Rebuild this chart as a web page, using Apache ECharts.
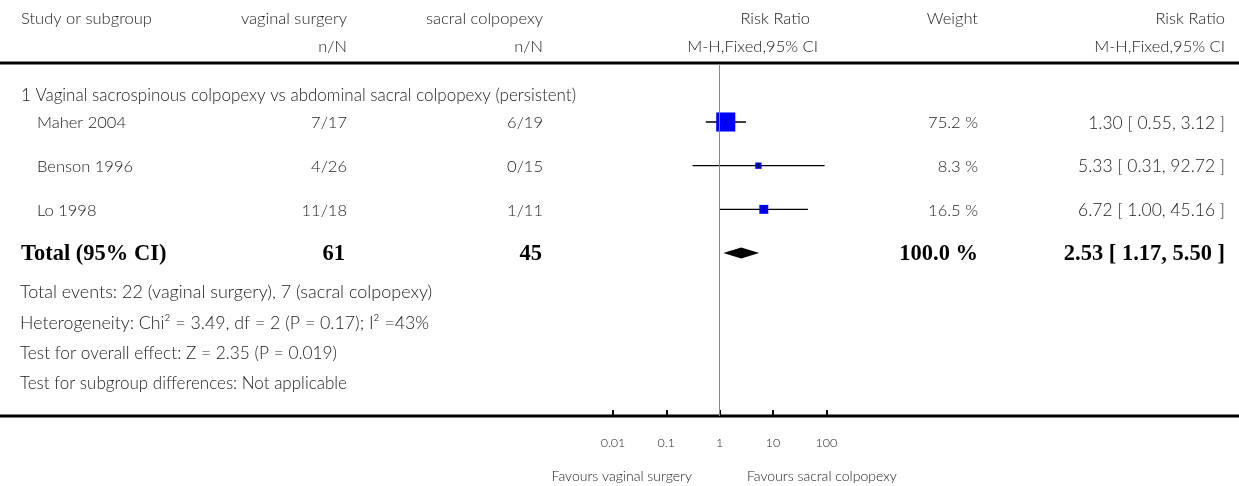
<!DOCTYPE html>
<html><head><meta charset="utf-8">
<script src="https://cdn.jsdelivr.net/npm/echarts/dist/echarts.min.js"></script>
<style>html,body{margin:0;padding:0;background:#fff}#c{width:1239px;height:486px}</style>
</head><body><div id="c"></div>
<script>
// ---------------- data ----------------
const headerRow1 = ['Study or subgroup', 'vaginal surgery', 'sacral colpopexy', 'Risk Ratio', 'Weight', 'Risk Ratio'];
const headerRow2 = ['', 'n/N', 'n/N', 'M-H,Fixed,95% CI', '', 'M-H,Fixed,95% CI'];
const subgroupTitle = '1 Vaginal sacrospinous colpopexy vs abdominal sacral colpopexy (persistent)';
const studies = ['Maher 2004', 'Benson 1996', 'Lo 1998'];
const vaginalNN = ['7/17', '4/26', '11/18'];
const sacralNN = ['6/19', '0/15', '1/11'];
const rrEst = [1.30, 5.33, 6.72];
const rrLow = [0.55, 0.31, 1.00];
const rrHigh = [3.12, 92.72, 45.16];
const weights = [75.2, 8.3, 16.5];
const weightLabels = ['75.2 %', '8.3 %', '16.5 %'];
const rrLabels = ['1.30 [ 0.55, 3.12 ]', '5.33 [ 0.31, 92.72 ]', '6.72 [ 1.00, 45.16 ]'];
const totalLabel = 'Total (95% CI)';
const totalVaginal = '61';
const totalSacral = '45';
const totalEst = 2.53, totalLow = 1.17, totalHigh = 5.50;
const totalWeightLabel = '100.0 %';
const totalRRLabel = '2.53 [ 1.17, 5.50 ]';
const footnotes = [
  'Total events: 22 (vaginal surgery), 7 (sacral colpopexy)',
  'Heterogeneity: Chi² = 3.49, df = 2 (P = 0.17); I² =43%',
  'Test for overall effect: Z = 2.35 (P = 0.019)',
  'Test for subgroup differences: Not applicable'
];
const tickValues = [0.01, 0.1, 1, 10, 100];
const tickLabels = ['0.01', '0.1', '1', '10', '100'];
const favoursLeft = 'Favours vaginal surgery';
const favoursRight = 'Favours sacral colpopexy';

// ---------------- layout ----------------
const FONT = '"Lato", "Open Sans", sans-serif';
const TXT = '#222';
const W = 1239;
const gridTop = 64, gridBottomY = 416;
const rowUnit = 43.67;          // px per study row
const firstRowY = 122;          // pixel of row 1
const yMin = 1 - (firstRowY - gridTop) / rowUnit;
const yMax = yMin + (gridBottomY - gridTop) / rowUnit;

const studyData = studies.map((s, i) => [i + 1, rrEst[i], rrLow[i], rrHigh[i], weights[i]]);
const totalRow = studies.length + 1;

const chart = echarts.init(document.getElementById('c'), null, {renderer: 'canvas'});

const option = {
  animation: false,
  backgroundColor: '#fff',
  grid: {left: 613, width: 213.33, top: gridTop, height: gridBottomY - gridTop, containLabel: false},
  xAxis: {
    type: 'log', logBase: 10, min: 0.01, max: 100,
    axisLine: {show: false, onZero: false},
    axisTick: {show: true, inside: true, length: 6, lineStyle: {color: '#000', width: 2}},
    splitLine: {show: false},
    axisLabel: {
      margin: 20, color: TXT, fontFamily: 'Lato', fontWeight: 300, fontSize: 12.5,
      formatter: v => {
        const i = tickValues.findIndex(t => Math.abs(Math.log10(t) - Math.log10(v)) < 1e-6);
        return i >= 0 ? tickLabels[i] : '';
      }
    }
  },
  yAxis: {type: 'value', min: yMin, max: yMax, inverse: true, show: false},
  series: [
    {
      type: 'custom',
      data: studyData,
      encode: {x: [1, 2, 3], y: 0},
      renderItem: (params, api) => {
        const row = api.value(0);
        const pEst = api.coord([api.value(1), row]);
        const pLo = api.coord([api.value(2), row]);
        const pHi = api.coord([api.value(3), row]);
        const size = 2.2 * Math.sqrt(api.value(4));
        return {
          type: 'group',
          children: [
            {type: 'line', shape: {x1: pLo[0], y1: pLo[1], x2: pHi[0], y2: pHi[1]},
             style: {stroke: '#000', lineWidth: 1.3}},
            {type: 'rect', shape: {x: pEst[0] - size / 2, y: pEst[1] - size / 2, width: size, height: size},
             style: {fill: '#0000ff'}},
            {type: 'line', shape: {x1: pEst[0], y1: pEst[1] - 2.5, x2: pEst[0], y2: pEst[1] + 2.5},
             style: {stroke: '#000', lineWidth: 1}}
          ]
        };
      },
      markLine: {
        silent: true, symbol: 'none', label: {show: false},
        lineStyle: {color: '#888', width: 1, type: 'solid'},
        data: [{xAxis: 1}]
      }
    },
    {
      type: 'custom',
      data: [[totalRow, totalEst, totalLow, totalHigh]],
      encode: {x: [1, 2, 3], y: 0},
      renderItem: (params, api) => {
        const row = api.value(0);
        const pEst = api.coord([api.value(1), row]);
        const pLo = api.coord([api.value(2), row]);
        const pHi = api.coord([api.value(3), row]);
        const h = 5.5;
        return {
          type: 'polygon',
          shape: {points: [[pLo[0], pLo[1]], [pEst[0], pEst[1] - h], [pHi[0], pHi[1]], [pEst[0], pEst[1] + h]]},
          style: {fill: '#000'}
        };
      }
    }
  ]
};
chart.setOption(option);

// ---------------- text table ----------------
const F = (s) => '300 ' + s + 'px ' + FONT;
function txt(text, x, y, align, font, fill) {
  return {type: 'text', silent: true, x: 0, y: 0,
    style: {text: text, x: x, y: y, textAlign: align, align: align,
            textVerticalAlign: 'middle', verticalAlign: 'middle',
            font: font || F(16.5), fill: fill || TXT}};
}
const rowY = r => chart.convertToPixel({gridIndex: 0}, [1, r])[1] + 1;
const colX = {study: 21, studyIndent: 37, vag: 347, sac: 543, weight: 978, rrTxt: 1225};
const HFONT = F(16.5);
const els = [];
// header
const hAlign = ['left', 'right', 'right', 'right', 'right', 'right'];
const hX1 = [colX.study, colX.vag, colX.sac, 810, 978, colX.rrTxt];
const hX2 = [colX.study, colX.vag, colX.sac, 818, 978, colX.rrTxt];
headerRow1.forEach((t, i) => { if (t) els.push(txt(t, hX1[i], 19, hAlign[i], HFONT)); });
headerRow2.forEach((t, i) => { if (t) els.push(txt(t, hX2[i], 47, hAlign[i], HFONT)); });
// rules
els.push({type: 'line', silent: true, shape: {x1: 0, y1: 63, x2: W, y2: 63}, style: {stroke: '#000', lineWidth: 3}});
els.push({type: 'line', silent: true, shape: {x1: 0, y1: gridBottomY, x2: W, y2: gridBottomY}, style: {stroke: '#000', lineWidth: 3}});
// subgroup
els.push(txt(subgroupTitle, colX.study, 96, 'left', F(17)));
studies.forEach((s, i) => {
  const y = rowY(i + 1);
  els.push(txt(s, colX.studyIndent, y, 'left'));
  els.push(txt(vaginalNN[i], colX.vag, y, 'right'));
  els.push(txt(sacralNN[i], colX.sac, y, 'right'));
  els.push(txt(weightLabels[i], colX.weight, y, 'right'));
  els.push(txt(rrLabels[i], colX.rrTxt, y, 'right', F(17.5)));
});
const BOLD = 'bold 22.5px "Liberation Serif", "DejaVu Serif", serif';
const ty = rowY(totalRow);
els.push(txt(totalLabel, colX.study, ty, 'left', BOLD, '#000'));
els.push(txt(totalVaginal, 345, ty, 'right', BOLD, '#000'));
els.push(txt(totalSacral, 542, ty, 'right', BOLD, '#000'));
els.push(txt(totalWeightLabel, colX.weight, ty, 'right', BOLD, '#000'));
els.push(txt(totalRRLabel, colX.rrTxt, ty, 'right', BOLD, '#000'));
const footY = [292, 323, 353, 384];
const footSize = [18, 17.8, 17.3, 17];
footnotes.forEach((t, i) => els.push(txt(t, 20, footY[i], 'left', F(footSize[i]))));
// favours
els.push(txt(favoursLeft, 692, 476, 'right', F(14)));
els.push(txt(favoursRight, 747, 476, 'left', F(14)));

chart.setOption({graphic: {elements: els}});
</script>
</body></html>
